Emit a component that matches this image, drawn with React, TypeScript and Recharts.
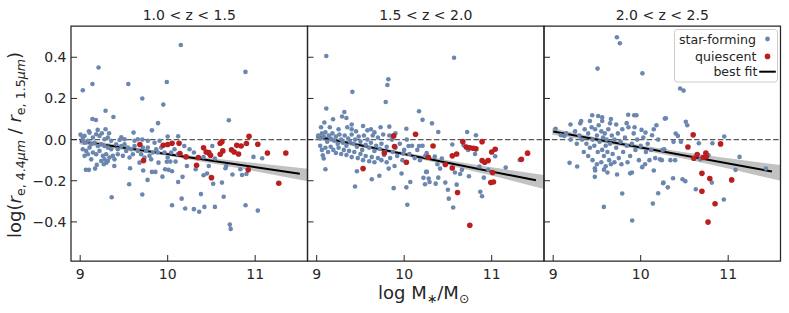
import React from 'react';
import {
  ComposedChart,
  Scatter,
  Line,
  Area,
  XAxis,
  YAxis,
  ReferenceLine,
  ReferenceArea,
  Label,
  Legend,
} from 'recharts';

// ---------- data (log M*, log ratio) ----------
const TITLES = ['1.0 < z < 1.5', '1.5 < z < 2.0', '2.0 < z < 2.5'];
const X_TICKS = [9, 10, 11];
const Y_TICKS = [-0.4, -0.2, 0, 0.2, 0.4];
const LEGEND_LABELS = ['star-forming', 'quiescent', 'best fit'];

const SF1: [number, number][] = [
  [10.15, 0.46], [9.21, 0.35], [9.03, 0.24], [9.14, 0.27], [9.55, 0.27], [9.99, 0.28], [9.71, 0.2], [9.95, 0.17],
  [9.29, 0.14], [9.38, 0.11], [9.14, 0.1], [9.18, 0.095], [9.89, 0.08], [9.82, 0.045], [9.61, 0.034], [9.29, 0.05],
  [9.2, 0.047], [9.1, 0.04], [9.33, 0.031], [9.47, 0.011], [10.12, 0.016], [10.0, 0.015], [9.71, 0.0],
  [9.065, -0.147], [9.1, -0.147], [9.17, -0.141], [9.19, -0.123], [9.27, -0.12], [9.3, -0.112], [9.39, -0.128],
  [9.57, -0.139], [9.72, -0.15], [9.82, -0.157], [9.86, -0.157], [9.77, -0.196], [9.94, -0.18], [9.97, -0.144],
  [10.01, -0.147], [10.05, -0.154], [9.56, -0.217], [9.36, -0.28], [9.71, -0.267], [10.05, -0.319], [10.16, -0.287],
  [10.2, -0.335], [10.12, -0.206], [10.17, -0.181], [10.22, -0.128], [9.895, -0.112], [9.99, -0.108], [10.03, -0.107],
  [10.09, -0.107],
  [9.004, 0.024], [9.03, 0.01], [9.05, 0.018], [9.107, 0.034], [9.145, 0.01], [9.183, 0.026], [9.221, 0.018],
  [9.248, 0.031], [9.278, 0.002], [9.316, 0.01], [9.354, -0.006], [9.03, -0.006], [9.05, -0.015], [9.088, -0.006],
  [9.126, -0.023], [9.164, -0.015], [9.202, -0.031], [9.24, -0.023], [9.278, -0.031], [9.316, -0.039], [9.354, -0.047],
  [9.03, -0.047], [9.069, -0.055], [9.107, -0.039], [9.145, -0.063], [9.183, -0.071], [9.221, -0.055], [9.259, -0.079],
  [9.297, -0.071], [9.335, -0.087], [9.373, -0.079], [9.05, -0.079], [9.088, -0.071], [9.126, -0.096], [9.24, -0.104],
  [9.278, -0.096], [9.316, -0.104], [9.392, -0.096], [9.43, -0.047], [9.469, -0.031], [9.507, -0.023], [9.545, -0.039],
  [9.583, -0.047], [9.621, -0.031], [9.659, -0.055], [9.43, -0.071], [9.488, -0.079], [9.564, -0.087], [9.602, -0.071],
  [9.526, -0.055], [9.697, -0.071], [9.754, -0.055], [9.792, -0.079], [9.83, -0.063], [9.869, -0.047], [9.773, -0.039],
  [9.716, -0.039], [9.735, -0.087], [9.888, -0.063], [9.926, -0.039], [9.811, -0.096], [9.678, -0.112], [9.411, -0.023],
  [9.45, -0.002], [9.507, 0.002], [9.621, -0.006], [9.659, 0.002], [9.773, -0.006], [9.85, -0.015], [9.907, -0.006],
  [10.078, -0.047], [10.116, -0.071], [10.04, -0.063], [9.964, -0.063], [10.0, -0.087], [10.19, -0.031], [10.25, -0.047],
  [10.889, 0.329], [10.699, 0.094], [10.3, -0.063], [10.51, -0.031], [10.32, -0.144], [10.41, -0.173], [10.45, -0.165],
  [10.47, -0.128], [10.52, -0.215], [10.62, -0.209], [10.64, -0.278], [10.38, -0.265], [10.3, -0.338], [10.36, -0.351],
  [10.42, -0.327], [10.54, -0.327], [10.71, -0.413], [10.72, -0.434], [10.89, -0.319], [11.03, -0.345], [10.66, -0.139],
  [10.67, -0.128], [10.74, -0.17], [10.83, -0.144], [10.85, -0.172], [10.9, -0.167], [10.98, -0.084], [11.08, -0.091],
  [10.54, -0.092], [10.41, -0.085], [10.47, -0.07],
];
const Q1: [number, number][] = [
  [9.682, -0.024], [9.949, -0.028], [10.0, -0.024], [10.05, -0.018], [10.13, -0.018], [9.724, -0.102], [10.14, -0.068],
  [10.21, -0.084], [10.93, 0.016], [10.6, -0.018], [10.62, -0.01], [10.79, -0.028], [10.84, -0.031], [10.9, -0.019],
  [11.03, -0.023], [10.41, -0.04], [10.44, -0.06], [10.47, -0.063], [10.49, -0.076], [10.63, -0.055], [10.6, -0.071],
  [10.73, -0.05], [10.76, -0.06], [10.81, -0.07], [11.14, -0.065], [11.35, -0.065], [10.35, -0.087], [10.33, -0.125],
  [10.5, -0.185], [10.92, -0.147], [11.27, -0.212],
];
const FIT1: [number, number][] = [[9.0, -0.008], [11.51, -0.166]];
const BAND1: [number, number, number][] = [
  [8.99, -0.023, 0.007], [9.5, -0.05, -0.03], [10.0, -0.079, -0.063], [10.5, -0.115, -0.091], [11.0, -0.154, -0.114], [11.6, -0.202, -0.142],
];

const SF2: [number, number][] = [
  [9.11, 0.406], [9.819, 0.293], [9.808, 0.265], [9.408, 0.232], [9.789, 0.183], [9.11, 0.151], [9.088, 0.083],
  [9.187, 0.099], [9.316, 0.134], [9.29, 0.112], [9.34, 0.105], [9.4, 0.073], [9.4, 0.05], [9.53, 0.066], [9.62, 0.05],
  [9.73, 0.06], [9.83, 0.063], [10.025, 0.053], [10.17, 0.138], [10.21, 0.096],
  [9.1, -0.144], [9.07, -0.076], [9.08, -0.092], [9.46, -0.154], [9.438, -0.228], [9.63, -0.193], [9.716, -0.176],
  [9.823, -0.141], [9.89, -0.128], [9.88, -0.236], [9.97, -0.165], [10.025, -0.232], [10.036, -0.317], [10.07, -0.206],
  [10.22, -0.186], [10.25, -0.157], [10.17, -0.031], [10.05, -0.031], [9.99, -0.068],
  [9.02, 0.02], [9.04, 0.005], [9.06, 0.03], [9.08, 0.015], [9.1, 0.035], [9.12, -0.01], [9.14, 0.02], [9.16, 0.005],
  [9.18, 0.03], [9.2, -0.005], [9.22, 0.015], [9.24, -0.02], [9.26, 0.025], [9.28, 0.0], [9.3, -0.015], [9.32, 0.02],
  [9.34, -0.03], [9.36, 0.005], [9.38, -0.01], [9.4, 0.025], [9.42, -0.02], [9.44, 0.0], [9.46, -0.035], [9.48, 0.015],
  [9.5, -0.01], [9.52, -0.05], [9.54, 0.02], [9.56, -0.025], [9.58, 0.0], [9.6, -0.04], [9.62, -0.015], [9.64, 0.02],
  [9.66, -0.055], [9.68, -0.03], [9.7, 0.01], [9.72, -0.045], [9.74, -0.02], [9.76, 0.025], [9.78, -0.06], [9.8, -0.035],
  [9.04, -0.03], [9.06, -0.05], [9.1, -0.04], [9.13, -0.06], [9.16, -0.035], [9.19, -0.05], [9.22, -0.065], [9.25, -0.04],
  [9.28, -0.07], [9.31, -0.05], [9.34, -0.075], [9.37, -0.055], [9.4, -0.085], [9.43, -0.06], [9.47, -0.09], [9.5, -0.07],
  [9.53, -0.1], [9.56, -0.08], [9.6, -0.105], [9.63, -0.085], [9.66, -0.11], [9.7, -0.09], [9.74, -0.1], [9.77, -0.075],
  [9.8, -0.11], [9.84, -0.09], [9.87, -0.06], [9.9, -0.04], [9.92, -0.08], [9.95, -0.02], [9.98, -0.1], [10.0, -0.05],
  [10.03, 0.0], [10.06, -0.07], [10.09, -0.03], [10.12, -0.09], [10.15, -0.05], [10.18, -0.1], [10.21, -0.03],
  [10.24, -0.08], [9.83, 0.02], [9.86, 0.0], [9.9, 0.03], [9.58, 0.045], [9.66, 0.035], [9.45, 0.04], [9.35, 0.06],
  [9.25, 0.05], [9.15, 0.06], [9.05, 0.06],
  [10.57, 0.398], [10.318, 0.079], [10.39, 0.037], [10.72, 0.037], [10.82, 0.021], [10.55, -0.024], [10.68, -0.028],
  [10.81, -0.07], [10.73, -0.05], [10.257, -0.066], [10.35, -0.083], [10.43, -0.092], [10.38, -0.12], [10.41, -0.141],
  [10.26, -0.157], [10.28, -0.189], [10.29, -0.206], [10.238, -0.217], [10.36, -0.214], [10.39, -0.185], [10.47, -0.209],
  [10.5, -0.244], [10.51, -0.287], [10.56, -0.33], [10.6, -0.219], [10.58, -0.16], [10.64, -0.167], [10.66, -0.147],
  [10.74, -0.178], [10.86, -0.131], [10.91, -0.185], [10.96, -0.147], [10.87, -0.254], [10.89, -0.275], [11.04, -0.081],
  [11.16, -0.136], [11.32, -0.099],
];
const Q2: [number, number][] = [
  [9.88, 0.018], [10.13, 0.026], [9.89, -0.034], [9.773, -0.065], [10.025, -0.11], [9.53, -0.141],
  [10.33, -0.031], [10.276, -0.086], [10.47, -0.121], [10.55, -0.079], [10.6, -0.07], [10.55, -0.138], [10.61, -0.257],
  [10.67, -0.01], [10.71, -0.036], [10.75, -0.04], [10.79, -0.042], [10.82, -0.045], [10.89, -0.01], [10.89, -0.102],
  [10.92, -0.11], [10.96, -0.102], [11.0, -0.06], [11.04, -0.047], [11.01, -0.16], [10.99, -0.209], [11.02, -0.206],
  [10.75, -0.416], [11.34, -0.096], [11.41, -0.066],
];
const FIT2: [number, number][] = [[9.0, 0.015], [11.506, -0.198]];
const BAND2: [number, number, number][] = [
  [8.99, 0.001, 0.029], [9.5, -0.037, -0.019], [10.0, -0.078, -0.062], [10.5, -0.125, -0.101], [11.0, -0.175, -0.135], [11.6, -0.24, -0.172],
];

const SF3: [number, number][] = [
  [9.728, 0.497], [9.762, 0.468], [9.507, 0.345], [10.02, 0.322], [9.446, 0.118], [9.514, 0.115], [9.56, 0.108],
  [9.857, 0.121], [9.926, 0.118], [9.952, 0.118], [9.309, 0.079], [9.198, 0.073], [9.027, 0.053], [9.65, 0.079],
  [9.72, 0.073], [10.18, 0.07], [10.01, 0.047], [10.055, 0.034], [10.13, 0.021], [10.276, 0.102], [9.088, 0.021],
  [9.126, 0.018],
  [9.187, -0.113], [9.274, -0.131], [9.476, -0.139], [9.476, -0.181], [9.58, -0.146], [9.789, -0.262], [9.579, -0.327],
  [9.903, -0.393], [9.88, -0.164], [10.017, -0.134], [10.166, -0.09], [10.22, -0.096], [10.139, -0.311], [10.2, -0.261],
  [10.257, -0.212],
  [9.25, 0.04], [9.3, 0.02], [9.33, 0.0], [9.36, 0.05], [9.38, -0.02], [9.4, 0.03], [9.42, -0.04], [9.44, 0.06],
  [9.45, 0.0], [9.47, -0.03], [9.48, 0.05], [9.5, 0.02], [9.51, -0.06], [9.52, 0.07], [9.53, -0.01], [9.55, 0.04],
  [9.56, -0.05], [9.57, 0.01], [9.58, -0.08], [9.59, 0.03], [9.6, -0.03], [9.61, 0.0], [9.62, -0.06], [9.63, 0.05],
  [9.64, -0.1], [9.65, -0.02], [9.67, 0.02], [9.68, -0.07], [9.7, 0.0], [9.72, -0.04], [9.74, 0.03], [9.75, -0.09],
  [9.77, -0.01], [9.79, 0.05], [9.8, -0.06], [9.82, 0.01], [9.84, -0.03], [9.86, 0.06], [9.88, -0.08], [9.9, -0.02],
  [9.92, 0.03], [9.94, -0.05], [9.96, 0.0], [9.98, -0.1], [10.0, -0.03], [10.03, 0.01], [10.06, -0.06], [10.08, -0.02],
  [10.1, -0.1], [10.12, -0.05], [9.35, -0.06], [9.4, -0.08], [9.45, -0.1], [9.5, -0.12], [9.55, -0.11], [9.6, -0.13],
  [9.66, -0.12], [9.7, -0.11], [9.78, -0.12], [9.85, -0.11], [9.27, -0.02], [9.2, 0.0], [9.15, 0.03], [9.32, 0.09],
  [9.42, 0.09], [9.56, 0.09], [9.66, 0.1], [9.84, 0.08], [9.93, 0.06], [9.48, -0.15], [9.62, -0.16], [9.73, -0.17],
  [9.9, -0.16], [10.05, -0.12], [10.15, -0.15], [10.25, -0.05], [10.2, 0.0], [10.15, 0.05],
  [10.451, 0.248], [10.49, 0.238], [10.288, 0.104], [10.516, 0.087], [10.532, 0.07], [10.4, 0.029], [10.425, 0.018],
  [10.375, -0.011], [10.46, -0.011], [10.665, -0.018], [10.82, -0.018], [10.955, 0.015], [10.269, -0.047],
  [10.242, -0.1], [10.34, -0.1], [10.394, -0.1], [10.26, -0.209], [10.31, -0.232], [10.37, -0.188], [10.478, -0.193],
  [10.51, -0.202], [10.63, -0.241], [10.775, -0.076], [10.68, -0.096], [10.813, -0.209], [10.95, -0.291],
  [11.084, -0.147], [11.13, -0.084], [11.43, -0.141],
];
const Q3: [number, number][] = [
  [10.6, 0.023], [10.54, -0.036], [10.646, -0.073], [10.608, -0.091], [10.745, -0.066], [10.749, -0.083],
  [10.714, -0.087], [10.913, -0.021], [10.7, -0.164], [10.79, -0.189], [10.7, -0.251], [10.85, -0.312], [10.77, -0.401],
  [11.04, -0.196],
];
const FIT3: [number, number][] = [[9.0, 0.039], [11.5, -0.155]];
const BAND3: [number, number, number][] = [
  [8.99, 0.023, 0.055], [9.5, -0.01, 0.01], [10.0, -0.049, -0.028], [10.5, -0.093, -0.061], [11.0, -0.141, -0.091], [11.6, -0.2, -0.124],
];

const PANELS = [
  { sf: SF1, q: Q1, fit: FIT1, band: BAND1 },
  { sf: SF2, q: Q2, fit: FIT2, band: BAND2 },
  { sf: SF3, q: Q3, fit: FIT3, band: BAND3 },
];

// ---------- layout / style ----------
const W = 789;
const H = 313;
const PLOT_TOP = 26;
const PLOT_BOTTOM = 261;
const PANEL_LEFT = [71, 307.5, 544];
const PANEL_W = 236.5;
const X_DOMAIN: [number, number] = [8.895, 11.598];
const Y_DOMAIN: [number, number] = [-0.59, 0.552];
const FONT = "'DejaVu Sans', sans-serif";
const TEXT = '#262626';
const BLUE = '#6b87b0';
const RED = '#bb1e1e';

const fmtY = (v: number) => (v === 0 ? '0.0' : (v < 0 ? '\u2212' : '') + Math.abs(v).toFixed(1));

const XTick = (props: any) => {
  const { x, payload } = props;
  const y = PLOT_BOTTOM;
  return (
    <g>
      <line x1={x} x2={x} y1={y} y2={y - 6} stroke={TEXT} strokeWidth={1} />
      <text x={x} y={y + 18} textAnchor="middle" fontFamily={FONT} fontSize={14} fill={TEXT}>
        {String(payload.value)}
      </text>
    </g>
  );
};

const makeYTick = (showLabel: boolean, axisX: number) => (props: any) => {
  const { y, payload } = props;
  const x = axisX;
  return (
    <g>
      <line x1={x} x2={x + 6} y1={y} y2={y} stroke={TEXT} strokeWidth={1} />
      {showLabel && (
        <text x={x - 4.5} y={y} dy="0.36em" textAnchor="end" fontFamily={FONT} fontSize={14} fill={TEXT}>
          {fmtY(payload.value)}
        </text>
      )}
    </g>
  );
};

const dotShape = (r: number, color: string) => (p: any) => <circle cx={p.cx} cy={p.cy} r={r} fill={color} />;

const YLabel = () => {
  const cx = 21;
  const cy = 145;
  return (
    <text
      transform={`rotate(-90 ${cx} ${cy})`}
      x={cx}
      y={cy}
      textAnchor="middle"
      fontFamily={FONT}
      fontSize={18}
      fill={TEXT}
      style={{ whiteSpace: 'pre' }}
    >
      <tspan>log(</tspan>
      <tspan fontStyle="italic">r</tspan>
      <tspan fontSize={12.6} dy={4}>e, 4.4</tspan>
      <tspan fontSize={12.6} fontStyle="italic">μm</tspan>
      <tspan dy={-4}> / </tspan>
      <tspan fontStyle="italic">r</tspan>
      <tspan fontSize={12.6} dy={4}>e, 1.5</tspan>
      <tspan fontSize={12.6} fontStyle="italic">μm</tspan>
      <tspan dy={-4}>)</tspan>
    </text>
  );
};

const XLabel = () => (
  <text
    x={PANEL_LEFT[1] + PANEL_W / 2 - 2}
    y={299}
    textAnchor="middle"
    fontFamily={FONT}
    fontSize={18}
    fill={TEXT}
    style={{ whiteSpace: 'pre' }}
  >
    <tspan>log M</tspan>
    <tspan fontSize={12.6} dy={4}>∗</tspan>
    <tspan dy={-4}>/M</tspan>
    <tspan fontSize={12.6} dy={4}>⊙</tspan>
  </text>
);

const LegendBox = () => (
  <svg width={105} height={55} style={{ display: 'block', overflow: 'visible' }}>
    <rect x={0.5} y={0.5} width={103} height={52.5} rx={3} fill="#ffffff" fillOpacity={0.8} stroke="#cccccc" strokeWidth={1} />
    <text x={82} y={10} dy="0.36em" textAnchor="end" fontFamily={FONT} fontSize={12.6} fill={TEXT}>
      {LEGEND_LABELS[0]}
    </text>
    <circle cx={93.5} cy={10} r={2.4} fill={BLUE} />
    <text x={82.5} y={27.4} dy="0.36em" textAnchor="end" fontFamily={FONT} fontSize={12.6} fill={TEXT}>
      {LEGEND_LABELS[1]}
    </text>
    <circle cx={93.5} cy={27.4} r={2.8} fill={RED} />
    <text x={83.5} y={42.7} dy="0.36em" textAnchor="end" fontFamily={FONT} fontSize={12.6} fill={TEXT}>
      {LEGEND_LABELS[2]}
    </text>
    <line x1={85.2} x2={101.8} y1={42.7} y2={42.7} stroke="#000" strokeWidth={2} />
  </svg>
);

function Panel({ i }: { i: number }) {
  const left = PANEL_LEFT[i];
  const p = PANELS[i];
  const sf = p.sf.map(([x, y]) => ({ x, y }));
  const q = p.q.map(([x, y]) => ({ x, y }));
  const fit = p.fit.map(([x, y]) => ({ x, y }));
  const band = p.band.map(([x, lo, hi]) => ({ x, band: [lo, hi] }));
  return (
    <div style={{ position: 'absolute', left: 0, top: 0 }}>
      <ComposedChart
        width={W}
        height={H}
        margin={{ top: PLOT_TOP, bottom: 0, left: 0, right: W - left - PANEL_W }}
      >
        <XAxis
          type="number"
          dataKey="x"
          domain={X_DOMAIN}
          ticks={X_TICKS}
          allowDataOverflow
          axisLine={false}
          tickLine={false}
          tickSize={0}
          tickMargin={0}
          height={H - PLOT_BOTTOM}
          interval={0}
          tick={XTick}
        />
        <YAxis
          type="number"
          dataKey="y"
          domain={Y_DOMAIN}
          ticks={Y_TICKS}
          allowDataOverflow
          axisLine={false}
          tickLine={false}
          tickSize={0}
          tickMargin={0}
          width={left}
          interval={0}
          tick={makeYTick(i === 0, left)}
        />
        <Area
          data={band}
          dataKey="band"
          type="linear"
          stroke="none"
          fill="#a8a8a8"
          fillOpacity={0.7}
          isAnimationActive={false}
        />
        <ReferenceLine y={0} stroke="#5a5a5a" strokeWidth={1.4} strokeDasharray="5.5 2.4" />
        <Scatter data={sf} shape={dotShape(2.3, BLUE)} isAnimationActive={false} />
        <Scatter data={q} shape={dotShape(2.8, RED)} isAnimationActive={false} />
        <Line data={fit} dataKey="y" type="linear" stroke="#000000" strokeWidth={2} dot={false} isAnimationActive={false} />
        <ReferenceArea
          x1={X_DOMAIN[0]}
          x2={X_DOMAIN[1]}
          y1={Y_DOMAIN[0]}
          y2={Y_DOMAIN[1]}
          fill="none"
          stroke={TEXT}
          strokeWidth={1.25}
          ifOverflow="visible"
        >
          <Label
            content={() => (
              <text
                x={left + PANEL_W / 2}
                y={PLOT_TOP - 6}
                textAnchor="middle"
                fontFamily={FONT}
                fontSize={14}
                fill={TEXT}
              >
                {TITLES[i]}
              </text>
            )}
          />
          {i === 0 && <Label content={() => <YLabel />} />}
          {i === 1 && <Label content={() => <XLabel />} />}
        </ReferenceArea>
        {i === 2 && (
          <Legend
            layout="vertical"
            align="center"
            verticalAlign="middle"
            content={() => <LegendBox />}
            wrapperStyle={{ position: 'absolute', left: 673.5, top: 29, width: 105, height: 55 }}
          />
        )}
      </ComposedChart>
    </div>
  );
}

export default function App() {
  return (
    <div style={{ position: 'absolute', left: 0, top: 0, width: W, height: H, background: '#ffffff' }}>
      <Panel i={0} />
      <Panel i={1} />
      <Panel i={2} />
    </div>
  );
}
